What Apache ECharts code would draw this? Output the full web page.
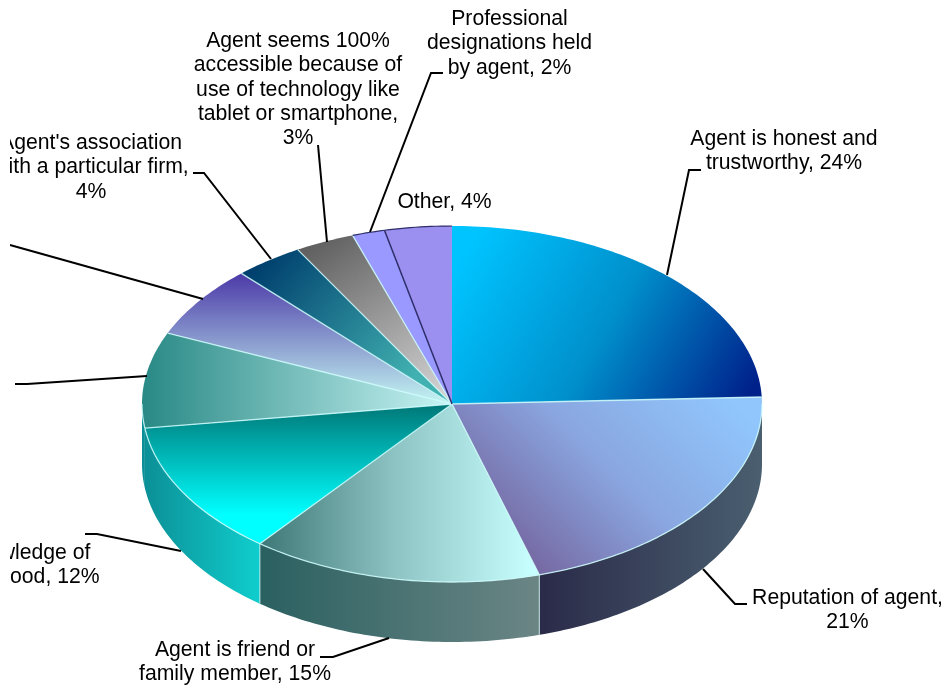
<!DOCTYPE html>
<html>
<head>
<meta charset="utf-8">
<script src="https://cdn.jsdelivr.net/npm/echarts@6/dist/echarts.min.js"></script>
<style>html,body{margin:0;padding:0;background:#fff}#c{width:945px;height:689px;filter:blur(0.45px)}</style>
</head>
<body>
<div id="c"></div>
<script>
// ---- data (shares; printed labels are the rounded values)
const categories = [
  'Agent is honest and trustworthy',
  'Reputation of agent',
  'Agent is friend or family member',
  "Agent's knowledge of the neighborhood",
  'Label outside the page (a)',
  'Label outside the page (b)',
  "Agent's association with a particular firm",
  'Agent seems 100% accessible because of use of technology like tablet or smartphone',
  'Professional designations held by agent',
  'Other'
];
const shares = [24.4, 21.1, 15.2, 12.2, 8.7, 6.6, 3.6, 3.1, 1.7, 3.5];
const labelLines = [
  ['Agent is honest and', 'trustworthy, {v}'],
  ['Reputation of agent,', '{v}'],
  ['Agent is friend or', 'family member, {v}'],
  ["Agent's knowledge of", 'the neighborhood, {v}'],
  [],
  [],
  ["Agent's association", 'with a particular firm,', '{v}'],
  ['Agent seems 100%', 'accessible because of', 'use of technology like', 'tablet or smartphone,', '{v}'],
  ['Professional', 'designations held', 'by agent, {v}'],
  ['Other, {v}']
];

// ---- layout and style
const CX = 452, CY = 404, RX = 310, RY = 178, DEPTH = 60;
const FONT = '"Liberation Sans", Arial, sans-serif', FS = 21.2, LH = 24.4;
const labelAnchors = [[784,139],[847.5,598],[235,650],[-10,553],null,null,[91,143],[298,41],[509.5,19],[444.5,202]];
const leaders = [
  [[667,275],[689,170],[701,170]],
  [[703,569],[735,604],[747,604]],
  [[389,638],[333,657],[320,657]],
  [[181,551],[97,534],[85,534]],
  [[147,376],[27,384],[15,384]],
  [[203,299],[10,245]],
  [[271,259],[204,173],[193,173]],
  [[327,242],[318,145]],
  [[370,232],[431,73],[443,73]],
  null
];
const linear = (x, y, x2, y2, stops) => ({
  type:'linear', x, y, x2, y2, global:true,
  colorStops: stops.map((c,i)=>({offset: stops.length>1 ? i/(stops.length-1) : 0, color:c}))
});
const topFills = [
  linear(475,235,750,395,['#00c4ff','#0090cc','#00208a']),
  linear(720,390,530,578,['#90c6fc','#8aa6e0','#74649e']),
  linear(258,0,535,0,['#3d7676','#8fc4c4','#c8ffff']),
  linear(0,405,0,515,['#007878','#00ffff']),
  linear(145,0,450,0,['#2a8a86','#c8f4f4']),
  linear(0,274,0,400,['#4c3aa8','#c0f0f0']),
  linear(260,265,400,390,['#00406e','#40b0b0']),
  linear(320,240,430,400,['#606060','#d0d0d0']),
  '#9999ff',
  '#9b8ff0'
];
const wallTeal = linear(143,0,257,0,['#0b8f96','#10cccc']);
const wallFills = [
  '#000',
  linear(537,0,762,0,['#2a2a48','#4a5f70']),
  linear(257,0,537,0,['#2a6060','#6b8585']),
  wallTeal,
  wallTeal,
  '#000','#000','#000','#000','#000'
];
const LIGHT = 'rgba(205,250,250,0.85)', DARK = '#2e2e6a';

// ---- chart rows: [share, cumulative start, cumulative end, index]
const total = shares.reduce((a,b)=>a+b,0);
let running = 0;
const rows = shares.map((v,i)=>{ const r=[v,running,running+v,i]; running+=v; return r; });

const pt = (deg, dy=0) => {
  const a = deg*Math.PI/180;
  return [CX+RX*Math.sin(a), CY-RY*Math.cos(a)+dy];
};
const arc = (d0,d1,dy=0) => {
  const out=[], n=Math.max(2,Math.ceil(Math.abs(d1-d0)));
  for(let k=0;k<=n;k++) out.push(pt(d0+(d1-d0)*k/n,dy));
  return out;
};
const angles = api => [api.value(1)/total*360, api.value(2)/total*360];

function renderWall(params, api){
  const [a0,a1] = angles(api), s=Math.max(a0,90), e=Math.min(a1,270);
  if(s>=e) return {type:'group',children:[]};
  const i = api.value(3);
  const children=[{type:'polygon',shape:{points:arc(s,e).concat(arc(e,s,DEPTH))},style:{fill:wallFills[i],stroke:null}}];
  if(a0>=90 && a0<=270 && i<4) children.push({type:'polyline',shape:{points:[pt(a0),pt(a0,DEPTH)]},style:{fill:null,stroke:'rgba(200,235,235,0.75)',lineWidth:1.2}});
  return {type:'group',children};
}
function renderTop(params, api){
  const [a0,a1] = angles(api), i=api.value(3);
  const children=[{type:'polygon',shape:{points:[[CX,CY]].concat(arc(a0,a1))},style:{fill:topFills[i],stroke:null}}];
  if(i>0) children.push({type:'polyline',shape:{points:[[CX,CY],pt(a0)]},style:{fill:null,stroke:i===9?DARK:LIGHT,lineWidth:i===9?1.5:1.3}});
  if(i===8||i===9) children.push({type:'polyline',shape:{points:arc(a0,a1)},style:{fill:null,stroke:DARK,lineWidth:1.2}});
  if(i>=1&&i<=4) children.push({type:'polyline',shape:{points:arc(Math.max(a0,90),Math.min(a1,270))},style:{fill:null,stroke:LIGHT,lineWidth:1.3}});
  return {type:'group',children};
}
function renderNotes(params, api){
  const i=api.value(3), children=[];
  if(leaders[i]) children.push({type:'polyline',shape:{points:leaders[i]},style:{fill:null,stroke:'#000',lineWidth:2}});
  if(labelAnchors[i]){
    const pct=Math.round(api.value(0))+'%';
    labelLines[i].forEach((line,k)=>{
      children.push({type:'text',style:{
        x:labelAnchors[i][0], y:labelAnchors[i][1]+k*LH,
        text:line.replace('{v}',pct), fill:'#000',
        font:FS+'px '+FONT, align:'center', verticalAlign:'middle'
      }});
    });
  }
  return {type:'group',children};
}

const chart = echarts.init(document.getElementById('c'),null,{renderer:'canvas'});
chart.setOption({
  animation:false,
  backgroundColor:'#fff',
  series:[
    {type:'custom',coordinateSystem:'none',name:'side',z:1,silent:true,renderItem:renderWall,data:rows},
    {type:'custom',coordinateSystem:'none',name:'top',z:2,silent:true,renderItem:renderTop,data:rows},
    {type:'custom',coordinateSystem:'none',name:'notes',z:3,silent:true,renderItem:renderNotes,data:rows}
  ],
  graphic:[{type:'rect',z:100,silent:true,shape:{x:0,y:0,width:10,height:689},style:{fill:'#fff'}}]
});
</script>
</body>
</html>
